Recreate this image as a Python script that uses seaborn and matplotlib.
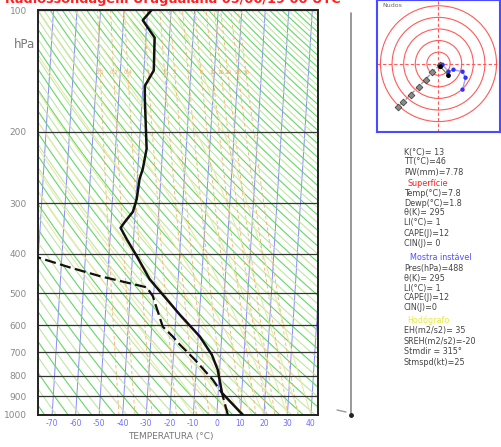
import numpy as np
import pandas as pd
import seaborn as sns
import matplotlib.pyplot as plt

SKEW = 4.6  # shift in deg C per ln(1000/p)

# sounding
pres_t = [1000, 882, 773, 710, 640, 565, 518, 462, 405, 368, 345, 334, 315, 293,
          261, 247, 220, 165, 154, 141, 117, 106, 100]
temp = [11.1, 1.6, -0.8, -3.7, -9.3, -18.4, -24.3, -32.1, -38.2, -42.9, -45.8, -44.2,
        -41.0, -39.7, -39.0, -37.9, -36.8, -38.9, -39.2, -35.8, -36.3, -41.8, -38.3]
pres_d = [1000, 882, 819, 730, 670, 640, 605, 555, 509, 484, 454, 432, 408, 395]
dewp = [4.7, 1.6, -2.6, -10.8, -17.6, -20.8, -25.3, -27.8, -30.3, -33.1, -53.4,
        -66.4, -80.3, -90.0]

p_levels = [100, 200, 300, 400, 500, 600, 700, 800, 900, 1000]
t_ticks = [-70, -60, -50, -40, -30, -20, -10, 0, 10, 20, 30, 40]
mix_ratios = [0.1, 0.2, 0.4, 1, 2, 3, 5, 8, 12, 16, 20, 28, 36]

# hodograph (knots)
hodo_u_obs = [1.7, -5.2, -11.2, -17.2, -24.1, -30.2, -34.5]
hodo_v_obs = [-0.9, -6.9, -13.8, -19.8, -26.7, -32.8, -37.1]
hodo_u_blue = [3.4, 8.6, 12.9, 20.7, 23.3, 20.7]
hodo_v_blue = [-0.9, -6.9, -5.2, -6.9, -12.1, -22.4]
hodo_u_blk = [1.7, 8.6]
hodo_v_blk = [-2.6, -10.3]
hodo_rings = [10, 20, 30, 40, 50]

idx_top = ["K(°C)= 13", "TT(°C)=46", "PW(mm)=7.78"]
idx_sfc = ["Temp(°C)=7.8", "Dewp(°C)=1.8", "θ(K)= 295", "LI(°C)= 1", "CAPE(J)=12", "CIN(J)= 0"]
idx_mu = ["Pres(hPa)=488", "θ(K)= 295", "LI(°C)= 1", "CAPE(J)=12", "CIN(J)=0"]
idx_hodo = ["EH(m2/s2)= 35", "SREH(m2/s2)=-20", "Stmdir = 315°", "Stmspd(kt)=25"]
title = "Radiossondagem Uruguaiana 05/06/19 00 UTC"


def skx(t, p):
    return np.asarray(t) + SKEW * np.log(1000.0 / np.asarray(p))


sns.set_style("white")
plt.rcParams['font.family'] = ['DejaVu Sans']

W, H = 502, 447
fig = plt.figure(figsize=(W / 100, H / 100), dpi=100)
ax = fig.add_axes([38 / W, 1 - 415 / H, 280 / W, 405 / H])
ax.set_yscale('log')

p = np.logspace(3, 2, 120)

# isotherms
for t0 in range(-160, 60, 10):
    ax.plot(skx(np.full_like(p, t0), p), p, color='#8a8aff', lw=0.7, zorder=1)

# dry adiabats, every 5 K in two shades
for th in range(200, 720, 5):
    tt = th * (p / 1000.0) ** 0.2857 - 273.15
    col = '#62d862' if th % 10 == 0 else '#bde8a0'
    ax.plot(skx(tt, p), p, color=col, lw=0.8, zorder=1)


# moist adiabats
def moist(t_start):
    ps = np.linspace(1000, 100, 200)
    out = [t_start + 273.15]
    for i in range(1, len(ps)):
        T = out[-1]
        pp = ps[i - 1]
        tc = T - 273.15
        es = 6.112 * np.exp(17.67 * tc / (tc + 243.5))
        rs = 0.622 * es / (pp - es)
        dtdp = (287.0 * T + 2.5e6 * rs) / (pp * (1004.0 + 2.5e6 ** 2 * rs * 0.622 / (287.0 * T ** 2)))
        out.append(T + dtdp * (ps[i] - pp))
    return ps, np.array(out) - 273.15


for t0 in range(-10, 45, 5):
    ps, tm = moist(t0)
    ax.plot(skx(tm, ps), ps, color='#e4eaa8', lw=0.8, zorder=1)

# mixing ratio lines
pw = np.logspace(3, 2, 60)
for w in mix_ratios:
    e = w / 1000.0 * pw / (0.622 + w / 1000.0)
    ln = np.log(e / 6.112)
    td = 243.5 * ln / (17.67 - ln)
    ax.plot(skx(td, pw), pw, color='#f5b070', lw=0.6, ls=(0, (4, 3)), zorder=1)
    el = w / 1000.0 * 143 / (0.622 + w / 1000.0)
    lnl = np.log(el / 6.112)
    xl = skx(243.5 * lnl / (17.67 - lnl), 143)
    if -74 < xl < 41:
        ax.text(xl, 143, f'{w:g}', fontsize=4, color='#f2a860', ha='center', va='center', zorder=2)

for pl in p_levels:
    ax.axhline(pl, color='#333333', lw=0.9, zorder=2)

df_t = pd.DataFrame({'x': skx(temp, pres_t), 'p': pres_t})
df_d = pd.DataFrame({'x': skx(dewp, pres_d), 'p': pres_d})
sns.lineplot(data=df_t, x='x', y='p', sort=False, estimator=None, color='#111111', lw=1.8, ax=ax, zorder=5)
sns.lineplot(data=df_d, x='x', y='p', sort=False, estimator=None, color='#111111', lw=1.6,
             linestyle=(0, (5, 2)), ax=ax, zorder=5)

ax.set_ylim(1000, 100)
ax.set_xlim(-76, 43)
ax.set_yticks(p_levels)
ax.set_yticklabels([str(v) for v in p_levels], fontsize=6.5, color='#888888')
ax.yaxis.set_minor_locator(plt.NullLocator())
ax.set_xticks(t_ticks)
ax.set_xticklabels([str(v) for v in t_ticks], fontsize=5.5, color='#6f6fff')
ax.tick_params(axis='y', length=0, pad=8)
ax.tick_params(axis='x', length=0, pad=3)
ax.set_xlabel('')
ax.set_ylabel('')
for s in ax.spines.values():
    s.set_color('#222222')
    s.set_linewidth(1.4)

fig.text(171 / W, 1 - 437 / H, 'TEMPERATURA (°C)', ha='center', va='center', fontsize=6.5, color='#777777')
fig.text(25 / W, 1 - 45 / H, 'hPa', ha='center', va='center', fontsize=8.5, color='#777777')
fig.text(5 / W, 1 + 1 / H, title, ha='left', va='center', fontsize=9.3, color='#ff2020', fontweight='bold')

# wind column on the right
fig.add_artist(plt.Line2D([351 / W, 351 / W], [1 - 13 / H, 1 - 415 / H], color='#888888', lw=1.2))
fig.add_artist(plt.Line2D([337 / W, 346 / W], [1 - 410 / H, 1 - 412 / H], color='#999999', lw=1.0))
fig.add_artist(plt.Line2D([351 / W], [1 - 415 / H], marker='o', ms=2.5, color='#222222'))

# hodograph
hx = fig.add_axes([377 / W, 1 - 132 / H, 123 / W, 132 / H])
for r in hodo_rings:
    hx.add_patch(plt.Circle((0, 0), r, fill=False, color='#ff5a5a', lw=0.8))
hx.axhline(0, color='#ff5a5a', lw=0.8, ls=(0, (3, 2)))
hx.axvline(0, color='#ff5a5a', lw=0.8, ls=(0, (3, 2)))
hx.plot(hodo_u_obs, hodo_v_obs, color='#999999', lw=1.0, ls='--')
sns.scatterplot(x=hodo_u_obs, y=hodo_v_obs, marker='D', s=12, color='#8a8a8a', edgecolor='#333333',
                linewidth=0.5, ax=hx, zorder=4)
hx.plot(hodo_u_blue, hodo_v_blue, color='#a0a0ff', lw=1.0)
sns.scatterplot(x=hodo_u_blue, y=hodo_v_blue, s=10, color='#3030ff', edgecolor='none', ax=hx, zorder=5)
hx.plot(hodo_u_blk, hodo_v_blk, color='#777700', lw=0.8)
sns.scatterplot(x=hodo_u_blk, y=hodo_v_blk, s=12, color='#000000', edgecolor='none', ax=hx, zorder=6)
hx.set_xlim(-53, 53)
hx.set_ylim(-59, 55)
hx.set_xticks([])
hx.set_yticks([])
for s in hx.spines.values():
    s.set_color('#4a4aff')
    s.set_linewidth(1.5)
hx.text(0.04, 0.975, 'Nudos', transform=hx.transAxes, fontsize=4.5, color='#666666', va='top')

# indices
fs = 5.8
tx = 404 / W
y = 152
for s in idx_top:
    fig.text(tx, 1 - y / H, s, fontsize=fs, color='#444444', va='center')
    y += 10
fig.text(428 / W, 1 - 183 / H, 'Superfície', fontsize=fs, color='#ff2020', va='center', ha='center')
y = 193
for s in idx_sfc:
    fig.text(tx, 1 - y / H, s, fontsize=fs, color='#444444', va='center')
    y += 10
fig.text(410 / W, 1 - 257 / H, 'Mostra instável', fontsize=fs, color='#5050ff', va='center')
y = 268
for s in idx_mu:
    fig.text(tx, 1 - y / H, s, fontsize=fs, color='#444444', va='center')
    y += 10
fig.text(428 / W, 1 - 320 / H, 'Hodógrafo', fontsize=fs, color='#e8e840', va='center', ha='center')
y = 331
for s in idx_hodo:
    fig.text(tx, 1 - y / H, s, fontsize=fs, color='#444444', va='center')
    y += 10.5

fig.savefig('out.png', dpi=100)
